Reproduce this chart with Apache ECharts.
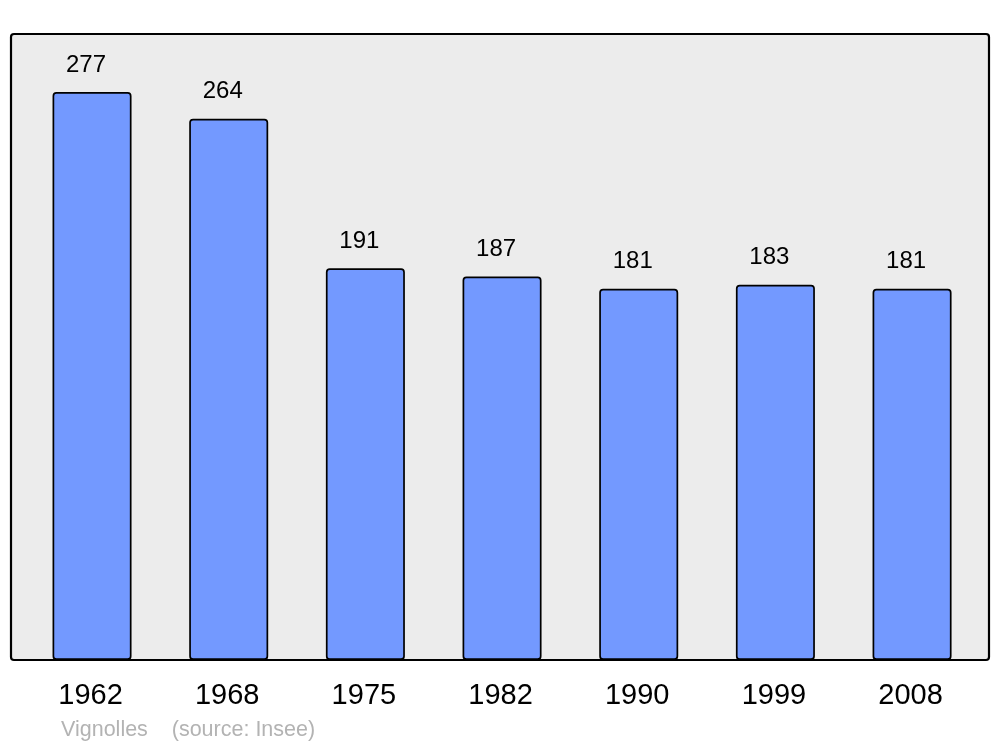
<!DOCTYPE html>
<html>
<head>
<meta charset="utf-8">
<script src="https://cdn.jsdelivr.net/npm/echarts@6/dist/echarts.min.js"></script>
<style>html,body{margin:0;padding:0;background:#fff;}#c{width:1000px;height:747px;}</style>
</head>
<body>
<div id="c"></div>
<script>
const years = ['1962', '1968', '1975', '1982', '1990', '1999', '2008'];
const population = [277, 264, 191, 187, 181, 183, 181];
const sourceText = 'Vignolles    (source: Insee)';

const chart = echarts.init(document.getElementById('c'), null, {renderer: 'canvas'});
chart.setOption({
  animation: false,
  backgroundColor: '#ffffff',
  textStyle: {fontFamily: 'Liberation Sans, Arial, sans-serif'},
  grid: {left: 23.7, width: 956.7, top: 34, height: 626},
  xAxis: {
    type: 'category',
    data: years,
    axisLine: {show: false},
    axisTick: {show: false},
    axisLabel: {fontSize: 29, color: '#000', margin: 21, padding: [0, 3, 0, 0],
                fontFamily: 'Liberation Sans, Arial, sans-serif'}
  },
  yAxis: {type: 'value', min: 0, max: 305.3, show: false, splitLine: {show: false}},
  graphic: [
    {type: 'rect', z: -10, shape: {x: 11, y: 34, width: 978, height: 626, r: 3},
     style: {fill: '#ececec', stroke: '#000', lineWidth: 2.2}},
    {type: 'text', left: 61, top: 719.5, z: 10,
     style: {text: sourceText, fontSize: 21.5, fill: '#b3b3b3', fontFamily: 'Liberation Sans, Arial, sans-serif'}}
  ],
  series: [{
    type: 'bar',
    data: population,
    barWidth: 79,
    itemStyle: {color: '#7399ff', borderColor: '#000', borderWidth: 1.7, borderRadius: 3},
    label: {show: true, position: 'top', distance: 15, offset: [-6, 0], fontSize: 24, color: '#000',
            fontFamily: 'Liberation Sans, Arial, sans-serif'}
  }]
});
</script>
</body>
</html>
